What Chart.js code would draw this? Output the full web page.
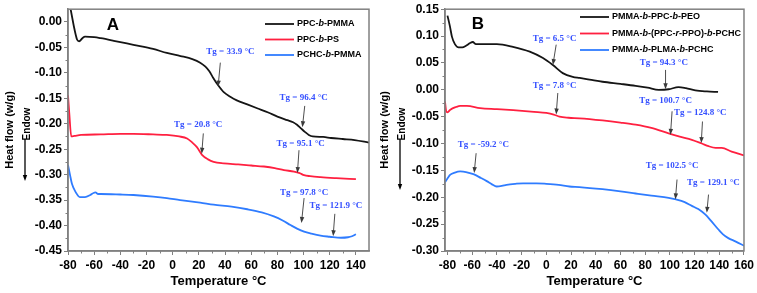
<!DOCTYPE html>
<html>
<head>
<meta charset="utf-8">
<script src="https://cdn.jsdelivr.net/npm/chart.js@4.4.1/dist/chart.umd.min.js"></script>
<style>
  html, body { margin: 0; padding: 0; background: #fff; }
  #wrap { position: relative; width: 757px; height: 293px; }
  canvas { position: absolute; top: 0; }
  #chartA { left: 0; }
  #chartB { left: 378px; }
</style>
</head>
<body>
<div id="wrap">
  <canvas id="chartA" width="378" height="293"></canvas>
  <canvas id="chartB" width="379" height="293"></canvas>
</div>
<script>
// ---------------- DONNEES PANNEAU A ----------------
const tickTempA = [-80, -60, -40, -20, 0, 20, 40, 60, 80, 100, 120, 140];
const tickFlowA = [-0.45, -0.40, -0.35, -0.30, -0.25, -0.20, -0.15, -0.10, -0.05, 0.00];

const labelA1 = 'PPC-b-PMMA';
const tempA1 = [-80, -78, -75, -73, -71.5, -69, -67, -60, -55, -45, -30, -15, -4.5, 6, 15, 21, 25, 28, 31, 34.6, 39, 44, 49, 57, 65, 73, 80, 87.6, 92, 95, 98, 101, 104, 107, 115, 121, 130, 139, 150];
const flowA1 = [0.05, 0.025, -0.015, -0.035, -0.038, -0.032, -0.029, -0.030, -0.032, -0.037, -0.045, -0.053, -0.061, -0.067, -0.073, -0.080, -0.088, -0.097, -0.110, -0.124, -0.138, -0.147, -0.154, -0.162, -0.170, -0.178, -0.186, -0.193, -0.197, -0.202, -0.209, -0.216, -0.222, -0.225, -0.226, -0.228, -0.230, -0.232, -0.237];

const labelA2 = 'PPC-b-PS';
const tempA2 = [-80, -79, -77.5, -75, -70, -55, -40, -30, -15, -4.5, 5, 11, 15, 18.5, 22.4, 27, 31.3, 39, 50, 60, 69.7, 78, 85, 92.7, 97, 100.4, 105, 113, 125, 140];
const flowA2 = [-0.144, -0.18, -0.225, -0.224, -0.222, -0.221, -0.220, -0.220, -0.221, -0.222, -0.225, -0.229, -0.237, -0.246, -0.261, -0.270, -0.275, -0.278, -0.280, -0.282, -0.284, -0.287, -0.291, -0.294, -0.297, -0.301, -0.303, -0.305, -0.307, -0.309];

const labelA3 = 'PCHC-b-PMMA';
const tempA3 = [-80, -78.5, -77, -74, -71, -67, -63, -60.5, -59, -57, -55, -40, -30, -15, -4.5, 5.7, 21, 31.3, 45, 57, 68, 77.3, 84, 90, 95, 100.4, 106, 113, 120, 128.5, 134, 137, 140];
const flowA3 = [-0.281, -0.30, -0.318, -0.335, -0.344, -0.344, -0.340, -0.336, -0.335, -0.338, -0.338, -0.339, -0.340, -0.343, -0.346, -0.350, -0.355, -0.359, -0.363, -0.368, -0.374, -0.382, -0.390, -0.399, -0.406, -0.412, -0.416, -0.420, -0.422, -0.424, -0.423, -0.421, -0.417];

// ---------------- DONNEES PANNEAU B ----------------
const tickTempB = [-80, -60, -40, -20, 0, 20, 40, 60, 80, 100, 120, 140, 160];
const tickFlowB = [-0.30, -0.25, -0.20, -0.15, -0.10, -0.05, 0.00, 0.05, 0.10, 0.15];

const labelB1 = 'PMMA-b-PPC-b-PEO';
const tempB1 = [-80, -78, -76.4, -74, -71, -68, -65, -61.7, -59.5, -57, -50, -40, -27, -13.4, -2.7, 5.3, 13.3, 21.4, 27, 35, 45.5, 60, 72.3, 82, 91, 99, 107, 113, 120.6, 130, 139];
const flowB1 = [0.138, 0.118, 0.099, 0.085, 0.079, 0.079, 0.082, 0.087, 0.089, 0.085, 0.085, 0.085, 0.080, 0.071, 0.059, 0.046, 0.031, 0.024, 0.022, 0.019, 0.015, 0.011, 0.0074, 0.004, 0.000, 0.001, 0.005, 0.003, -0.001, -0.003, -0.004];

const labelB2 = 'PMMA-b-(PPC-r-PPO)-b-PCHC';
const tempB2 = [-82, -81, -80, -77.7, -73, -69.7, -64.3, -53.6, -40, -26.8, -10, 0, 6, 10.7, 18, 26.8, 45.5, 60, 72.3, 85, 99, 108, 117.8, 125.9, 131.3, 137, 142, 150, 160];
const flowB2 = [-0.022, -0.040, -0.042, -0.037, -0.032, -0.030, -0.030, -0.034, -0.036, -0.038, -0.041, -0.043, -0.046, -0.050, -0.052, -0.053, -0.057, -0.061, -0.065, -0.071, -0.081, -0.087, -0.093, -0.100, -0.105, -0.108, -0.108, -0.115, -0.122];

const labelB3 = 'PMMA-b-PLMA-b-PCHC';
const tempB3 = [-82, -80, -77.7, -74, -69.7, -65, -59, -53, -48.2, -44, -40.2, -36, -32.2, -25, -18.8, -8, 0, 10, 18.7, 26.8, 45.5, 60, 72.3, 85, 99, 105, 112, 117.8, 123, 128.6, 133, 139.3, 143, 147.3, 153, 160];
const flowB3 = [-0.172, -0.165, -0.158, -0.154, -0.152, -0.153, -0.157, -0.164, -0.170, -0.176, -0.180, -0.179, -0.177, -0.175, -0.174, -0.174, -0.175, -0.177, -0.180, -0.181, -0.185, -0.189, -0.193, -0.197, -0.201, -0.204, -0.209, -0.216, -0.222, -0.232, -0.243, -0.260, -0.269, -0.276, -0.282, -0.290];

// annotations Tg : texte + fleche, en coordonnees (temperature, flux)
const notesA = [
    { text: 'Tg = 33.9 °C',  at: [44.1, -0.059], from: [36.4, -0.080], to: [34.7, -0.127] },
    { text: 'Tg = 96.4 °C',  at: [100.1, -0.148], from: [100.9, -0.165], to: [99.1, -0.207] },
    { text: 'Tg = 20.8 °C',  at: [19.5, -0.201], from: [23.4, -0.219], to: [22.2, -0.259] },
    { text: 'Tg = 95.1 °C',  at: [97.8, -0.240], from: [96.5, -0.252], to: [95.3, -0.297] },
    { text: 'Tg = 97.8 °C',  at: [100.4, -0.335], from: [100.4, -0.346], to: [98.4, -0.395] },
    { text: 'Tg = 121.9 °C', at: [124.7, -0.361], from: [123.9, -0.377], to: [122.6, -0.421] }
];
const notesB = [
    { text: 'Tg = 6.5 °C',   at: [6.7, 0.096], from: [8.0, 0.084], to: [5.3, 0.046] },
    { text: 'Tg = 94.3 °C',  at: [95.1, 0.051], from: [96.5, 0.037], to: [96.5, 0.001] },
    { text: 'Tg = 7.8 °C',   at: [6.7, 0.007], from: [9.3, -0.006], to: [8.0, -0.046] },
    { text: 'Tg = 100.7 °C', at: [96.5, -0.020], from: [101.8, -0.040], to: [100.5, -0.084] },
    { text: 'Tg = 124.8 °C', at: [124.6, -0.043], from: [126.4, -0.059], to: [125.4, -0.099] },
    { text: 'Tg = -59.2 °C', at: [-51, -0.102], from: [-56.8, -0.118], to: [-58.4, -0.155] },
    { text: 'Tg = 102.5 °C', at: [101.8, -0.141], from: [105.8, -0.167], to: [104.5, -0.204] },
    { text: 'Tg = 129.1 °C', at: [135.3, -0.172], from: [131.3, -0.195], to: [129.9, -0.229] }
];

const BLACK = '#151515';
const RED = '#ff2040';
const BLUE = '#2f7cff';
const NOTE = '#3550ff';
const AXIS = '#808080';
const SANS = "Arial, 'Liberation Sans', sans-serif";
const SERIF = "'Times New Roman', 'Liberation Serif', serif";

function serie(label, temps, flows, color) {
    return {
        label: label,
        data: temps.map((t, i) => ({ x: t, y: flows[i] })),
        borderColor: color,
        borderWidth: 1.8,
        pointRadius: 0,
        fill: false,
        cubicInterpolationMode: 'monotone'
    };
}

// texte de legende avec les lettres b / r en italique
function drawRich(ctx, text, x, y) {
    const parts = text.split('-');
    parts.forEach((p, i) => {
        ctx.font = (/^[a-z]$/.test(p) ? 'italic bold ' : 'bold ') + '9px ' + SANS;
        ctx.fillText(p, x, y);
        x += ctx.measureText(p).width;
        if (i < parts.length - 1) {
            ctx.font = 'bold 9px ' + SANS;
            ctx.fillText('-', x, y);
            x += ctx.measureText('-').width;
        }
    });
}

function arrow(ctx, x1, y1, x2, y2) {
    const ang = Math.atan2(y2 - y1, x2 - x1);
    ctx.beginPath();
    ctx.moveTo(x1, y1);
    ctx.lineTo(x2 - 4 * Math.cos(ang), y2 - 4 * Math.sin(ang));
    ctx.stroke();
    ctx.beginPath();
    ctx.moveTo(x2, y2);
    ctx.lineTo(x2 - 6 * Math.cos(ang) + 2.2 * Math.sin(ang), y2 - 6 * Math.sin(ang) - 2.2 * Math.cos(ang));
    ctx.lineTo(x2 - 6 * Math.cos(ang) - 2.2 * Math.sin(ang), y2 - 6 * Math.sin(ang) + 2.2 * Math.cos(ang));
    ctx.closePath();
    ctx.fill();
}

// cadre, petites graduations, legende, annotations, titre Y
const decor = {
    id: 'decor',
    afterDraw(chart, args, opts) {
        const { ctx, chartArea: a, scales: { x, y } } = chart;
        ctx.save();

        ctx.strokeStyle = AXIS;
        ctx.lineWidth = 1.5;
        ctx.strokeRect(a.left, a.top, a.right - a.left, a.bottom - a.top);

        // graduations mineures
        ctx.lineWidth = 1;
        for (let t = opts.xTicks[0] + 10; t < opts.xTicks[opts.xTicks.length - 1]; t += 20) {
            const px = Math.round(x.getPixelForValue(t)) + 0.5;
            ctx.beginPath(); ctx.moveTo(px, a.bottom); ctx.lineTo(px, a.bottom + 2.5); ctx.stroke();
        }
        for (let v = opts.yTicks[0] + 0.025; v < opts.yTicks[opts.yTicks.length - 1]; v += 0.05) {
            const py = Math.round(y.getPixelForValue(v)) + 0.5;
            ctx.beginPath(); ctx.moveTo(a.left, py); ctx.lineTo(a.left - 2.5, py); ctx.stroke();
        }

        // legende
        ctx.textBaseline = 'middle';
        ctx.fillStyle = '#000';
        chart.data.datasets.forEach((ds, i) => {
            const ly = opts.legend.y + i * opts.legend.gap;
            ctx.strokeStyle = ds.borderColor;
            ctx.lineWidth = 1.8;
            ctx.beginPath(); ctx.moveTo(opts.legend.x, ly); ctx.lineTo(opts.legend.x + 29, ly); ctx.stroke();
            ctx.fillStyle = '#000';
            drawRich(ctx, ds.label, opts.legend.x + 32, ly);
        });

        // annotations Tg
        ctx.textAlign = 'center';
        opts.notes.forEach(n => {
            ctx.font = 'bold 9px ' + SERIF;
            ctx.fillStyle = NOTE;
            ctx.fillText(n.text, x.getPixelForValue(n.at[0]), y.getPixelForValue(n.at[1]));
            ctx.strokeStyle = '#3a3a3a';
            ctx.fillStyle = '#3a3a3a';
            ctx.lineWidth = 0.9;
            arrow(ctx, x.getPixelForValue(n.from[0]), y.getPixelForValue(n.from[1]),
                       x.getPixelForValue(n.to[0]), y.getPixelForValue(n.to[1]));
        });

        // lettre du panneau
        ctx.fillStyle = '#000';
        ctx.font = 'bold 17px ' + SANS;
        ctx.fillText(opts.letter.text, opts.letter.x, opts.letter.y);

        // titre Y + Endow + fleche
        ctx.save();
        ctx.translate(opts.yTitle.x, 130);
        ctx.rotate(-Math.PI / 2);
        ctx.font = 'bold 11px ' + SANS;
        ctx.fillText('Heat flow (w/g)', 0, 0);
        ctx.restore();
        ctx.save();
        ctx.translate(opts.yTitle.x + 17, 124);
        ctx.rotate(-Math.PI / 2);
        ctx.font = 'bold 10px ' + SANS;
        ctx.fillText('Endow', 0, 0);
        ctx.restore();
        ctx.strokeStyle = '#000';
        ctx.fillStyle = '#000';
        ctx.lineWidth = 1.3;
        arrow(ctx, opts.yTitle.x + 15, 139, opts.yTitle.x + 15, opts.yTitle.arrowEnd);

        ctx.restore();
    }
};

function makeChart(id, datasets, xMin, xMax, yMin, yMax, xTicks, yTicks, yWidth, padRight, extra) {
    return new Chart(document.getElementById(id), {
        type: 'line',
        data: { datasets: datasets },
        plugins: [decor],
        options: {
            responsive: false,
            animation: false,
            layout: { padding: { left: 0, right: padRight, top: 9, bottom: 0 } },
            scales: {
                x: {
                    type: 'linear', min: xMin, max: xMax,
                    afterBuildTicks: s => { s.ticks = xTicks.map(v => ({ value: v })); },
                    afterFit: s => { s.height = 42; },
                    border: { color: AXIS, width: 1.5 },
                    grid: { drawOnChartArea: false, color: AXIS, tickLength: 4 },
                    ticks: { color: '#000', font: { family: SANS, size: 12, weight: 'bold' }, padding: 3, maxRotation: 0 },
                    title: { display: true, text: 'Temperature °C', color: '#000', font: { family: SANS, size: 13, weight: 'bold' }, padding: { top: 0, bottom: 4 } }
                },
                y: {
                    min: yMin, max: yMax,
                    afterBuildTicks: s => { s.ticks = yTicks.map(v => ({ value: v })); },
                    afterFit: s => { s.width = yWidth; },
                    border: { color: AXIS, width: 1.5 },
                    grid: { drawOnChartArea: false, color: AXIS, tickLength: 4 },
                    ticks: { color: '#000', font: { family: SANS, size: 12, weight: 'bold' }, padding: 2, callback: v => v.toFixed(2) }
                }
            },
            plugins: {
                legend: { display: false },
                tooltip: { enabled: false },
                decor: Object.assign({ xTicks: xTicks, yTicks: yTicks }, extra)
            }
        }
    });
}

window.addEventListener('DOMContentLoaded', () => {
    makeChart('chartA', [
        serie(labelA1, tempA1, flowA1, BLACK),
        serie(labelA2, tempA2, flowA2, RED),
        serie(labelA3, tempA3, flowA3, BLUE)
    ], -80, 150, -0.45, 0.025, tickTempA, tickFlowA, 68, 9, {
        notes: notesA,
        legend: { x: 265, y: 24, gap: 15.5 },
        letter: { text: 'A', x: 113, y: 25 },
        yTitle: { x: 10, arrowEnd: 181 }
    });

    makeChart('chartB', [
        serie(labelB1, tempB1, flowB1, BLACK),
        serie(labelB2, tempB2, flowB2, RED),
        serie(labelB3, tempB3, flowB3, BLUE)
    ], -82, 160, -0.30, 0.15, tickTempB, tickFlowB, 67, 11, {
        notes: notesB,
        legend: { x: 202, y: 17, gap: 16.5 },
        letter: { text: 'B', x: 100, y: 24 },
        yTitle: { x: 7, arrowEnd: 190 }
    });
});
</script>
</body>
</html>
